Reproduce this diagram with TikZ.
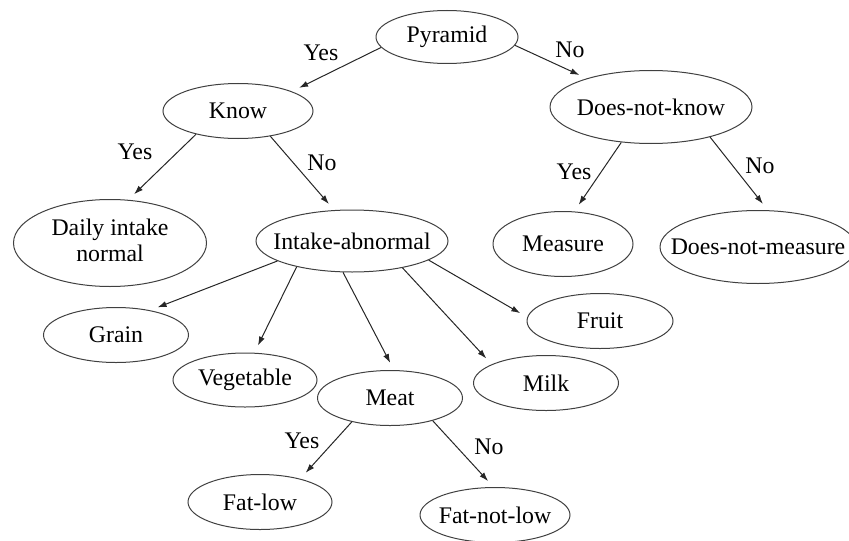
\documentclass[tikz,border=0pt]{standalone}
\usepackage{fontspec}
\setmainfont{Liberation Serif}
\usetikzlibrary{shapes.geometric,arrows.meta}
\tikzset{
	oval/.style 2 args={ellipse, draw=black!75, line width=0.5pt, inner sep=0pt, minimum width=#1*0.5pt, minimum height=#2*0.5pt},
	arr/.style={-{Latex[length=4.5pt,width=3pt]}, line width=0.5pt, draw=black!85, shorten >=4pt},
	lab/.style={inner sep=0pt}
}
\newcommand{\ov}[1]{\makebox[0pt]{#1}}
\begin{document}
\begin{tikzpicture}[x=0.5pt,y=-0.5pt,font=\fontsize{11.9}{13}\selectfont]
			\useasboundingbox (0,0) rectangle (849,540);
			\node[oval={142}{53}] (pyr) at (447,37) {\ov{Pyramid}};
			\node[oval={150}{55}] (know) at (238,111) {\ov{Know}};
			\node[oval={202}{73}] (dnk) at (651,107) {\ov{Does-not-know}};
			\node[oval={193}{87}] (daily) at (110,243) {\ov{\begin{tabular}{@{}c@{}}Daily intake\\normal\end{tabular}}};
			\node[oval={192}{62}] (abn) at (352,241) {\ov{Intake-abnormal}};
			\node[oval={140}{65}] (meas) at (563,244) {\ov{Measure}};
			\node[oval={196}{73}] (dnm) at (758,247) {\ov{Does-not-measure}};
			\node[oval={145}{55}] (grain) at (116,335) {\ov{Grain}};
			\node[oval={144}{54}] (veg) at (245,380) {\ov{Vegetable}};
			\node[oval={145}{55}] (meat) at (390,398) {\ov{Meat}};
			\node[oval={146}{55}] (fruit) at (600,321) {\ov{Fruit}};
			\node[oval={145}{55}] (milk) at (546,383) {\ov{Milk}};
			\node[oval={144}{55}] (fatlow) at (260,502) {\ov{Fat-low}};
			\node[oval={150}{55}] (fatnot) at (495,515) {\ov{Fat-not-low}};
			\draw[arr] (pyr.189) -- (know.20);
			\draw[arr] (pyr.353) -- (dnk.156);
			\draw[arr] (know.209) -- (daily.67);
			\draw[arr] (know.322) -- (abn.120);
			\draw[arr] (dnk.230) -- (meas.71);
			\draw[arr] (dnk.333) -- (dnm.75);
			\draw[arr] (abn.195) -- (grain.36);
			\draw[arr] (abn.205) -- (veg.71);
			\draw[arr] (abn.254) -- (meat.82);
			\draw[arr] (abn.332) -- (milk.161);
			\draw[arr] (abn.346) -- (fruit.177);
			\draw[arr] (meat.212) -- (fatlow.30);
			\draw[arr] (meat.332) -- (fatnot.93);
			\node[lab] (y1) at (321,53) {Yes};
			\node[lab] (n1) at (570,50) {No};
			\node[lab] (y2) at (135,152) {Yes};
			\node[lab] (n2) at (322,163) {No};
			\node[lab] (y3) at (574,172) {Yes};
			\node[lab] (n3) at (760,166) {No};
			\node[lab] (y4) at (302,441) {Yes};
			\node[lab] (n4) at (489,447) {No};
		\end{tikzpicture}
\end{document}
